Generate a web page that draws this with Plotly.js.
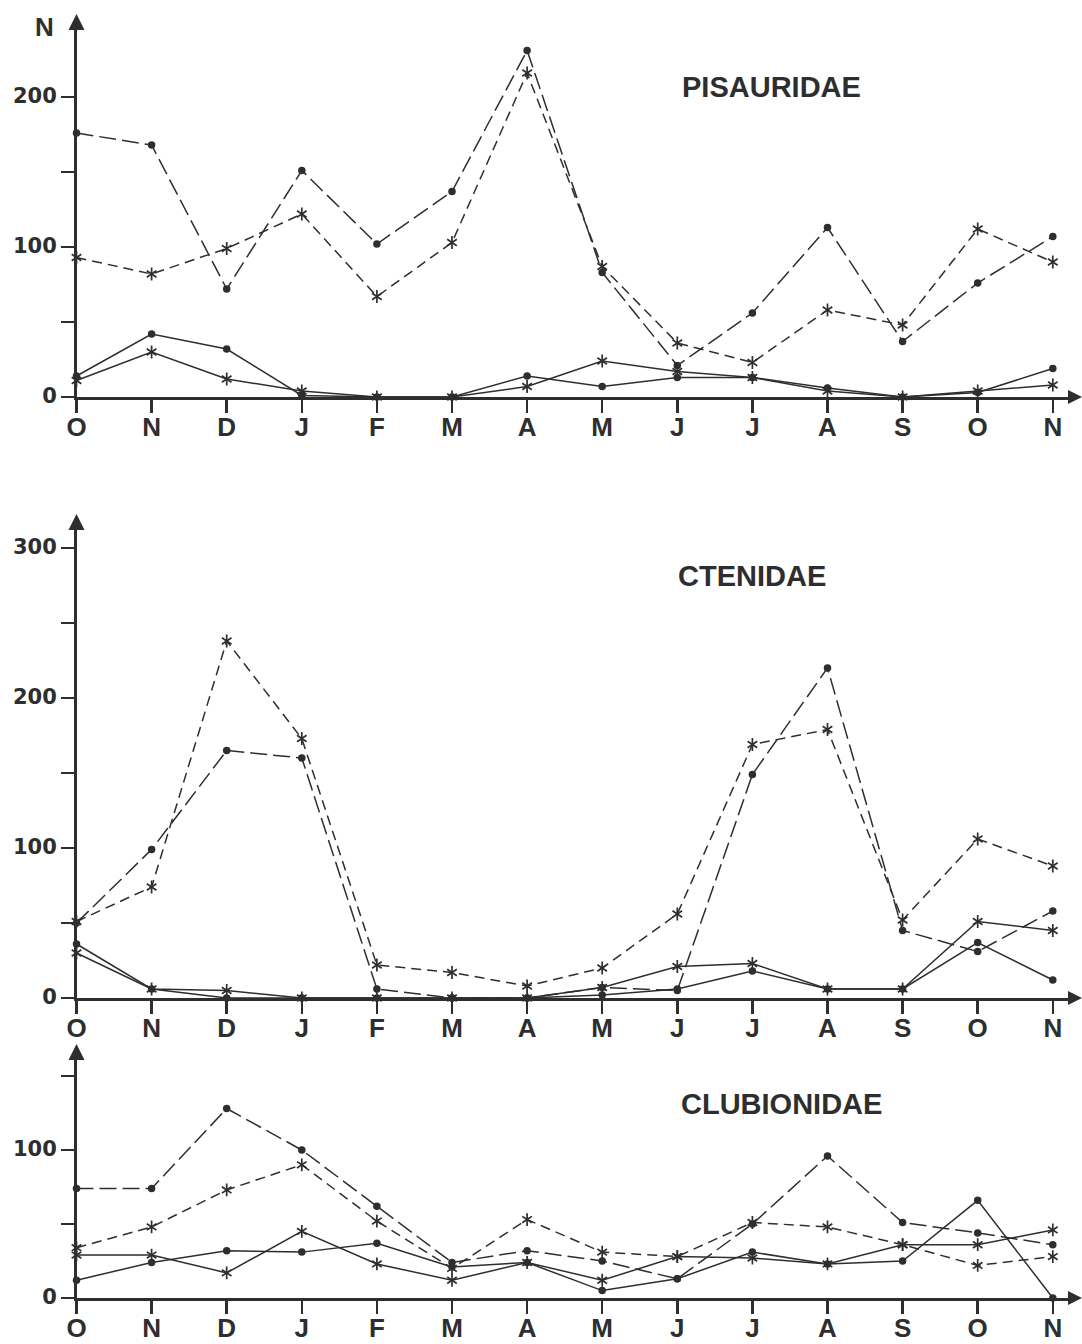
<!DOCTYPE html>
<html>
<head>
<meta charset="utf-8">
<script src="https://cdn.plot.ly/plotly-3.0.1.min.js"></script>
<style>
  html, body { margin: 0; padding: 0; background: #ffffff; }
  #chart { width: 1082px; height: 1344px; }
</style>
</head>
<body>
<div id="chart"></div>
<script>
// Months from October to the following November
const months = ['O', 'N', 'D', 'J', 'F', 'M', 'A', 'M', 'J', 'J', 'A', 'S', 'O', 'N'];

// PISAURIDAE
const pisDotsDashed  = [176, 168, 72, 151, 102, 137, 231, 83, 21, 56, 113, 37, 76, 107];
const pisStarsDashed = [93, 82, 99, 122, 67, 103, 216, 87, 36, 23, 58, 48, 112, 90];
const pisDotsSolid   = [14, 42, 32, 1, 0, 0, 14, 7, 13, 13, 6, 0, 3, 19];
const pisStarsSolid  = [11, 30, 12, 4, 0, 0, 7, 24, 17, 13, 4, 0, 4, 8];

// CTENIDAE
const ctnStarsDashed = [51, 74, 238, 173, 22, 17, 8, 20, 56, 169, 179, 52, 106, 88];
const ctnDotsDashed  = [50, 99, 165, 160, 6, 0, 0, 7, 5, 149, 220, 45, 31, 58];
const ctnDotsSolid   = [36, 6, 0, 0, 0, 0, 0, 2, 6, 18, 6, 6, 37, 12];
const ctnStarsSolid  = [30, 6, 5, 0, 0, 0, 0, 7, 21, 23, 6, 6, 51, 45];

// CLUBIONIDAE
const clbDotsDashed  = [74, 74, 128, 100, 62, 24, 32, 25, 13, 50, 96, 51, 44, 36];
const clbStarsDashed = [34, 48, 73, 90, 52, 20, 53, 31, 28, 51, 48, 36, 22, 28];
const clbDotsSolid   = [12, 24, 32, 31, 37, 21, 24, 5, 13, 31, 23, 25, 66, 0];
const clbStarsSolid  = [29, 29, 17, 45, 23, 12, 24, 12, 28, 27, 23, 36, 36, 46];

const panelTitles = ['PISAURIDAE', 'CTENIDAE', 'CLUBIONIDAE'];
const yTickVals = [[0, 50, 100, 150, 200], [0, 50, 100, 150, 200, 250, 300], [0, 50, 100, 150]];
const yTickText = [['0', '', '100', '', '200'], ['0', '', '100', '', '200', '', '300'], ['0', '', '100', '']];

const INK = '#2e2e2e';
const W = 1082, H = 1344;
const xIdx = months.map((m, i) => i);

// pixel helpers for layout placement
const px = x => x / W;
const py = y => 1 - y / H;

const X0 = 76.5, XEND = 1069, STEP = 75.1;
const panels = [
  { base: 397, top: 29, scale: 1.5, tip: 14 },
  { base: 998, top: 529, scale: 1.5, tip: 514 },
  { base: 1298, top: 1059, scale: 1.48, tip: 1044 }
];

function seriesTraces(k, vals, kind, dashed) {
  const xa = k === 0 ? 'x' : 'x' + (k + 1);
  const ya = k === 0 ? 'y' : 'y' + (k + 1);
  const line = { color: INK, width: 1.5, dash: dashed ? (kind === 'dot' ? '17px,6px' : '10px,6px') : 'solid' };
  const out = [];
  if (kind === 'dot') {
    out.push({
      x: xIdx, y: vals, xaxis: xa, yaxis: ya, mode: 'lines+markers', cliponaxis: false,
      line: line, marker: { symbol: 'circle', size: 7.5, color: INK }, hoverinfo: 'y'
    });
  } else {
    // six-armed star: an upward and a downward "Y" drawn over each other
    out.push({
      x: xIdx, y: vals, xaxis: xa, yaxis: ya, mode: 'lines+markers', cliponaxis: false,
      line: line, marker: { symbol: 'y-up-open', size: 8, color: INK, line: { color: INK, width: 1.7 } }, hoverinfo: 'y'
    });
    out.push({
      x: xIdx, y: vals, xaxis: xa, yaxis: ya, mode: 'markers', cliponaxis: false,
      marker: { symbol: 'y-down-open', size: 8, color: INK, line: { color: INK, width: 1.7 } }, hoverinfo: 'skip'
    });
  }
  return out;
}

const data = [].concat(
  seriesTraces(0, pisDotsDashed, 'dot', true),
  seriesTraces(0, pisStarsDashed, 'star', true),
  seriesTraces(0, pisDotsSolid, 'dot', false),
  seriesTraces(0, pisStarsSolid, 'star', false),
  seriesTraces(1, ctnStarsDashed, 'star', true),
  seriesTraces(1, ctnDotsDashed, 'dot', true),
  seriesTraces(1, ctnDotsSolid, 'dot', false),
  seriesTraces(1, ctnStarsSolid, 'star', false),
  seriesTraces(2, clbDotsDashed, 'dot', true),
  seriesTraces(2, clbStarsDashed, 'star', true),
  seriesTraces(2, clbDotsSolid, 'dot', false),
  seriesTraces(2, clbStarsSolid, 'star', false)
);

const layout = {
  width: W, height: H,
  margin: { l: 0, r: 0, t: 0, b: 0 },
  paper_bgcolor: '#ffffff', plot_bgcolor: 'rgba(0,0,0,0)',
  showlegend: false,
  font: { family: 'Liberation Sans, Arial, sans-serif', color: INK },
  shapes: [], annotations: []
};

panels.forEach((p, k) => {
  const sx = k === 0 ? '' : String(k + 1);
  layout['xaxis' + sx] = {
    domain: [px(X0), px(XEND)],
    range: [0, (XEND - X0) / STEP],
    anchor: 'y' + sx,
    showgrid: false, zeroline: false,
    showline: true, linecolor: INK, linewidth: 2.5,
    ticks: 'outside', ticklen: 13, tickwidth: 2.5, tickcolor: INK,
    tickvals: xIdx, ticktext: months,
    tickfont: { family: 'Liberation Sans, Arial, sans-serif', size: 26, weight: 'bold', color: INK },
    ticklabelstandoff: -8,
    fixedrange: true
  };
  layout['yaxis' + sx] = {
    domain: [py(p.base), py(p.top)],
    range: [0, (p.base - p.top) / p.scale],
    anchor: 'x' + sx,
    showgrid: false, zeroline: false,
    showline: true, linecolor: INK, linewidth: 2.5,
    ticks: 'outside', ticklen: 13, tickwidth: 2, tickcolor: INK,
    tickvals: yTickVals[k], ticktext: yTickText[k],
    tickfont: { family: 'DejaVu Sans, sans-serif', size: 21, weight: 'bold', color: INK },
    ticklabelshift: -1, ticklabelstandoff: 0,
    fixedrange: true
  };
  // arrowheads at the ends of both axes
  layout.shapes.push({
    type: 'path', xref: 'paper', yref: 'paper', line: { width: 0 }, fillcolor: INK,
    path: `M${px(X0)},${py(p.tip)} L${px(X0 + 8)},${py(p.top + 1)} L${px(X0 - 8)},${py(p.top + 1)} Z`
  });
  layout.shapes.push({
    type: 'path', xref: 'paper', yref: 'paper', line: { width: 0 }, fillcolor: INK,
    path: `M${px(1082)},${py(p.base)} L${px(XEND - 1)},${py(p.base - 7)} L${px(XEND - 1)},${py(p.base + 7)} Z`
  });
});

// family names inside each panel
const titlePos = [[771, 87], [752, 576], [781, 1104]];
panelTitles.forEach((t, k) => {
  layout.annotations.push({
    text: t, xref: 'paper', yref: 'paper', x: px(titlePos[k][0]), y: py(titlePos[k][1]),
    xanchor: 'center', yanchor: 'middle', showarrow: false,
    font: { family: 'Liberation Sans, Arial, sans-serif', size: 29, weight: 'bold', color: INK }
  });
});

// y-axis label of the top panel
layout.annotations.push({
  text: 'N', xref: 'paper', yref: 'paper', x: px(44), y: py(27),
  xanchor: 'center', yanchor: 'middle', showarrow: false,
  font: { family: 'Liberation Sans, Arial, sans-serif', size: 26, weight: 'bold', color: INK }
});

Plotly.newPlot('chart', data, layout, { displayModeBar: false, staticPlot: true });
</script>
</body>
</html>
